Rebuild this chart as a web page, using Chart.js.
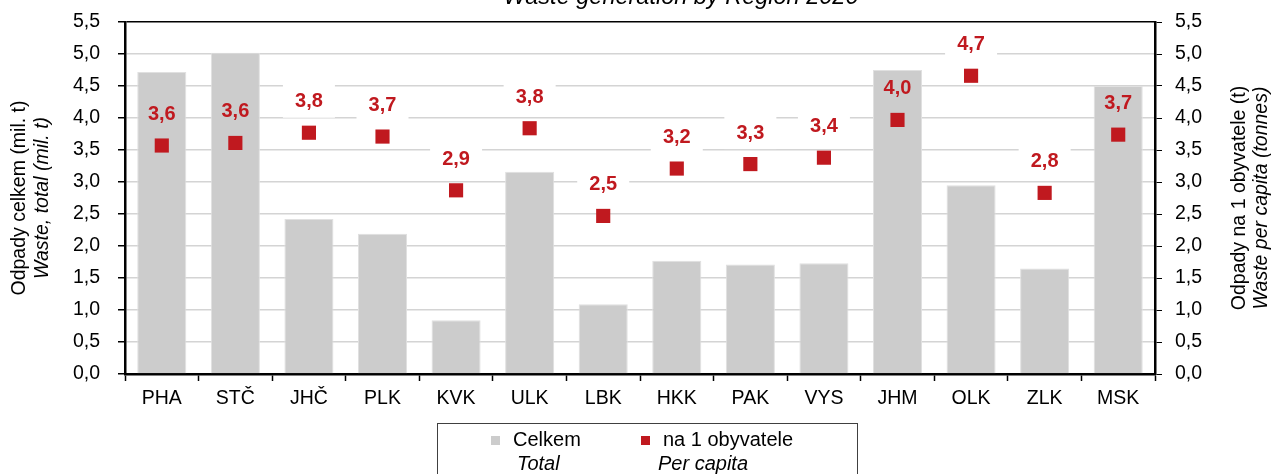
<!DOCTYPE html>
<html>
<head>
<meta charset="utf-8">
<script src="https://cdn.jsdelivr.net/npm/chart.js@4"></script>
<style>
  body { margin: 0; background: #fff; overflow: hidden; }
  #wrap { position: relative; width: 1273px; height: 474px; }
</style>
</head>
<body>
<div id="wrap">
  <canvas id="chart" width="1273" height="474"></canvas>
</div>
<script>
const regions = ["PHA", "STČ", "JHČ", "PLK", "KVK", "ULK", "LBK", "HKK", "PAK", "VYS", "JHM", "OLK", "ZLK", "MSK"];
const totalWaste = [4.72, 5.02, 2.42, 2.19, 0.84, 3.16, 1.09, 1.77, 1.71, 1.73, 4.75, 2.95, 1.65, 4.50];
const perCapita = [3.57, 3.61, 3.77, 3.71, 2.87, 3.84, 2.47, 3.21, 3.28, 3.38, 3.97, 4.66, 2.83, 3.74];
const axisMin = 0;
const axisMax = 5.5;
const axisStep = 0.5;

const FONT = "'Liberation Sans', Arial, sans-serif";
const RED = "#c0191f";
const GREY = "#cccccc";

function fmt(v) {
  return v.toFixed(1).replace(".", ",");
}

function gridColor(ctx) {
  const v = ctx.tick && ctx.tick.value;
  if (v === axisMax || v === axisMin) return "#000";
  return "#d4d4d4";
}

// per capita labels with white boxes above points
const pointLabels = {
  id: "pointLabels",
  afterDatasetsDraw(chart) {
    const meta = chart.getDatasetMeta(1);
    const bars = chart.getDatasetMeta(0).data;
    const ctx = chart.ctx;
    ctx.save();
    ctx.font = "bold 20px " + FONT;
    ctx.textAlign = "center";
    ctx.textBaseline = "middle";
    meta.data.forEach((pt, i) => {
      const x = pt.x;
      const y = pt.y - 31;
      // white box only where it does not sit on the bar
      if (bars[i].y > y + 16) {
        ctx.fillStyle = "#fff";
        ctx.fillRect(x - 26, y - 18, 52, 34);
      }
      ctx.fillStyle = RED;
      ctx.fillText(fmt(perCapita[i]), x, y);
    });
    ctx.restore();
  }
};

// title, two-line axis titles and legend box
const extras = {
  id: "extras",
  afterDraw(chart) {
    const ctx = chart.ctx;
    const area = chart.chartArea;
    const cy = (area.top + area.bottom) / 2;
    ctx.save();
    ctx.fillStyle = "#000";
    ctx.textBaseline = "alphabetic";

    ctx.textAlign = "center";
    ctx.font = "italic 23.5px " + FONT;
    ctx.fillText("Waste generation by Region 2020", 681, 4);

    const lines = [
      [25, "Odpady celkem (mil. t)", ""],
      [48, "Waste, total (mil. t)", "italic "],
      [1245, "Odpady na 1 obyvatele (t)", ""],
      [1267, "Waste per capita (tonnes)", "italic "]
    ];
    lines.forEach(([x, text, style]) => {
      ctx.save();
      ctx.translate(x, cy);
      ctx.rotate(-Math.PI / 2);
      ctx.font = style + "19.5px " + FONT;
      ctx.fillText(text, 0, 0);
      ctx.restore();
    });

    // legend
    ctx.strokeStyle = "#404040";
    ctx.lineWidth = 1;
    ctx.strokeRect(437.5, 423.5, 420, 60);
    ctx.fillStyle = GREY;
    ctx.fillRect(491, 436, 9, 9);
    ctx.fillStyle = RED;
    ctx.fillRect(641, 436, 9, 9);
    ctx.fillStyle = "#000";
    ctx.textAlign = "left";
    ctx.font = "20px " + FONT;
    ctx.fillText("Celkem", 513, 446);
    ctx.fillText("na 1 obyvatele", 663, 446);
    ctx.font = "italic 20px " + FONT;
    ctx.fillText("Total", 517, 470);
    ctx.fillText("Per capita", 658, 470);
    ctx.restore();
  }
};

function noPad(scale) {
  scale.paddingTop = 0;
  scale.paddingBottom = 0;
}

new Chart(document.getElementById("chart"), {
  data: {
    labels: regions,
    datasets: [
      {
        type: "bar",
        label: "Celkem",
        data: totalWaste,
        backgroundColor: GREY,
        borderColor: "#e0e0e0",
        borderWidth: 1,
        categoryPercentage: 1,
        barPercentage: 0.667,
        yAxisID: "y",
        order: 2
      },
      {
        type: "line",
        label: "na 1 obyvatele",
        data: perCapita,
        showLine: false,
        pointStyle: "rect",
        pointRadius: 10,
        pointHoverRadius: 10,
        pointBackgroundColor: RED,
        pointBorderWidth: 0,
        yAxisID: "y1",
        order: 1
      }
    ]
  },
  options: {
    responsive: false,
    animation: false,
    layout: { padding: { top: 22, left: 0, right: 0, bottom: 0 } },
    plugins: {
      legend: { display: false },
      tooltip: { enabled: false }
    },
    scales: {
      x: {
        offset: true,
        grid: { offset: true, drawOnChartArea: false, tickLength: 7, tickColor: "#000", tickWidth: 1.5 },
        border: { color: "#000", width: 2.5 },
        ticks: { color: "#000", font: { family: FONT, size: 19.5 }, padding: 6, maxRotation: 0 },
        afterFit(scale) {
          scale.height = 100;
          scale.paddingLeft = 0;
          scale.paddingRight = 0;
        }
      },
      y: {
        position: "left",
        min: axisMin,
        max: axisMax,
        grid: { color: gridColor, lineWidth: 1.5, tickColor: "#000", tickLength: 7 },
        border: { color: "#000", width: 2.5 },
        ticks: { stepSize: axisStep, color: "#000", font: { family: FONT, size: 19.5 }, padding: 18, callback: (v) => fmt(v) },
        afterFit(scale) { scale.width = 125; noPad(scale); }
      },
      y1: {
        position: "right",
        min: axisMin,
        max: axisMax,
        grid: { drawOnChartArea: false, tickColor: "#000", tickLength: 7 },
        border: { color: "#000", width: 2.5 },
        ticks: { stepSize: axisStep, color: "#000", font: { family: FONT, size: 19.5 }, padding: 13, callback: (v) => fmt(v) },
        afterFit(scale) { scale.width = 118; noPad(scale); }
      }
    }
  },
  plugins: [pointLabels, extras]
});
</script>
</body>
</html>
